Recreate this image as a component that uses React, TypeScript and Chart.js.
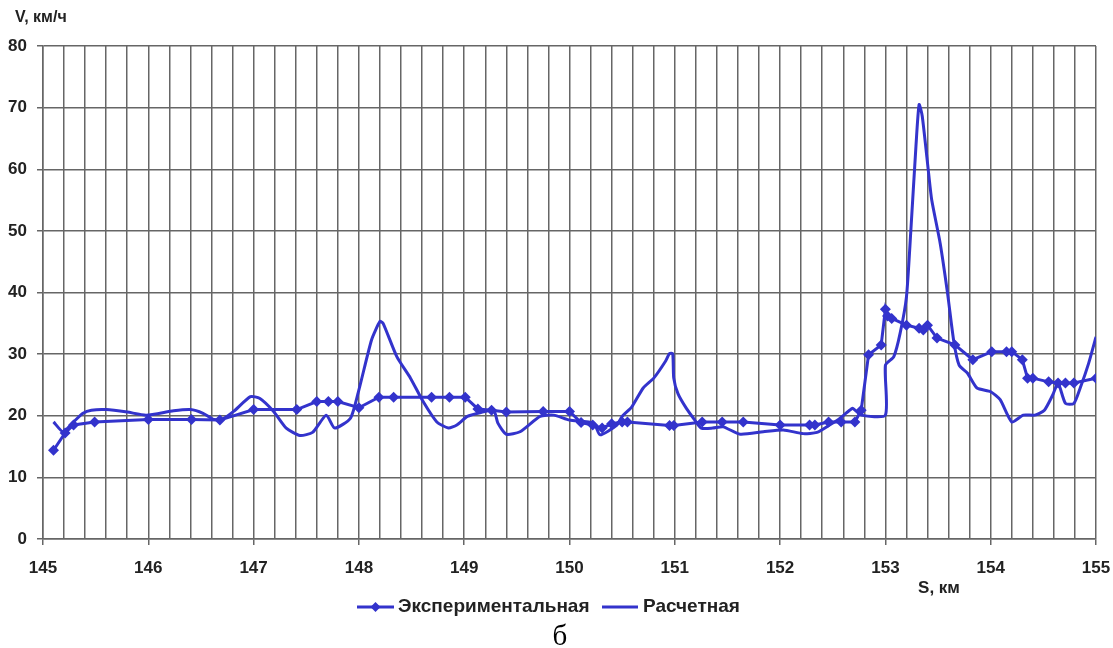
import React, { useEffect, useRef } from 'react';
import { Chart, registerables } from 'chart.js';

Chart.register(...registerables);

// Экспериментальная (with markers)
const expS = [
  145.1, 145.21, 145.29, 145.49, 146.0, 146.41, 146.68, 147.0, 147.41, 147.6,
  147.71, 147.8, 148.0, 148.19, 148.33, 148.69, 148.86, 149.01, 149.13, 149.26,
  149.4, 149.75, 150.0, 150.11, 150.22, 150.31, 150.4, 150.5, 150.55, 150.95,
  150.99, 151.26, 151.45, 151.65, 152.0, 152.28, 152.33, 152.46, 152.58, 152.71,
  152.77, 152.84, 152.96, 153.0, 153.02, 153.06, 153.2, 153.32, 153.36, 153.4,
  153.49, 153.66, 153.83, 154.01, 154.15, 154.2, 154.3, 154.35, 154.4, 154.55,
  154.64, 154.71, 154.79, 155.0,
];
const expV = [
  14.4, 17.2, 18.5, 19.0, 19.4, 19.4, 19.3, 21.0, 21.0, 22.3,
  22.3, 22.3, 21.3, 23.0, 23.0, 23.0, 23.0, 23.0, 21.1, 20.9,
  20.6, 20.7, 20.7, 18.9, 18.5, 18.0, 18.7, 19.0, 19.0, 18.4,
  18.4, 19.0, 19.0, 19.0, 18.5, 18.5, 18.5, 19.0, 19.0, 19.0,
  20.9, 29.9, 31.5, 37.3, 36.2, 35.8, 34.7, 34.2, 33.9, 34.7,
  32.6, 31.5, 29.1, 30.4, 30.4, 30.4, 29.1, 26.1, 26.1, 25.5,
  25.3, 25.3, 25.3, 26.1,
];

// Расчетная (line only)
const calcS = [
  145.1, 145.19, 145.29, 145.38, 145.46, 145.6, 145.8, 145.98, 146.24, 146.4,
  146.52, 146.62, 146.7, 146.81, 146.97, 147.06, 147.19, 147.31, 147.44, 147.56,
  147.69, 147.77, 147.92, 148.0, 148.12, 148.2, 148.23, 148.36, 148.49, 148.61,
  148.74, 148.85, 148.93, 149.03, 149.15, 149.28, 149.32, 149.4, 149.53, 149.72,
  149.85, 150.0, 150.23, 150.29, 150.45, 150.5, 150.59, 150.7, 150.8, 150.91,
  150.95, 150.98, 150.99, 151.03, 151.11, 151.19, 151.25, 151.36, 151.46, 151.62,
  151.84, 152.03, 152.22, 152.35, 152.47, 152.57, 152.66, 152.69, 152.77, 153.0,
  153.0, 153.08, 153.14, 153.2, 153.24, 153.29, 153.32, 153.35, 153.41, 153.44,
  153.52, 153.59, 153.65, 153.7, 153.78, 153.87, 154.0, 154.09, 154.2, 154.31,
  154.42, 154.51, 154.59, 154.64, 154.71, 154.79, 154.85, 154.93, 155.0,
];
const calcV = [
  19.0, 17.4, 19.0, 20.4, 20.9, 21.0, 20.6, 20.1, 20.8, 21.0,
  20.4, 19.4, 19.4, 20.7, 23.1, 22.8, 20.7, 18.0, 16.8, 17.3,
  20.1, 18.0, 19.6, 24.2, 32.3, 35.3, 35.0, 29.6, 26.1, 22.3,
  19.0, 18.0, 18.5, 19.9, 20.5, 20.9, 18.8, 17.0, 17.4, 19.9,
  20.1, 19.3, 18.8, 16.9, 18.5, 19.9, 21.4, 24.5, 26.1, 28.8,
  30.1, 30.1, 26.1, 23.6, 21.2, 19.3, 18.0, 18.0, 18.2, 17.0,
  17.4, 17.7, 17.1, 17.3, 18.5, 19.6, 20.9, 21.2, 20.1, 20.1,
  28.2, 29.6, 33.4, 39.3, 49.6, 63.7, 70.5, 68.6, 59.4, 55.0,
  48.0, 39.9, 32.0, 28.2, 26.9, 24.5, 23.9, 22.6, 19.0, 20.1,
  20.1, 20.9, 23.4, 25.3, 22.0, 22.0, 24.5, 28.5, 32.8,
];

const seriesNames = ['Экспериментальная', 'Расчетная'];
const xTitle = 'S, км';
const yTitle = 'V, км/ч';
const caption = 'б';
const xMin = 145;
const xMax = 155;
const xStep = 0.2;
const yMin = 0;
const yMax = 80;
const yStep = 10;

const LINE = '#3333CC';
const GRID = '#666666';
const TEXT = '#222222';
const FONT = '"Liberation Sans", Arial, sans-serif';

const isInt = (v: number) => Math.abs(v - Math.round(v)) < 1e-6;

export default function App() {
  const ref = useRef<HTMLCanvasElement>(null);

  useEffect(() => {
    if (!ref.current) return;

    const overlay = {
      id: 'overlay',
      afterDraw(chart: any) {
        const ctx = chart.ctx as CanvasRenderingContext2D;
        ctx.save();
        ctx.fillStyle = TEXT;
        ctx.font = `bold 16px ${FONT}`;
        ctx.textBaseline = 'middle';
        ctx.textAlign = 'left';
        ctx.fillText(yTitle, 15, 18);
        ctx.font = `bold 17px ${FONT}`;
        ctx.textAlign = 'center';
        ctx.fillText(xTitle, 939, 588);

        // legend
        const ly = 607;
        const items = [
          { x0: 357, x1: 394, tx: 398, marker: true, label: seriesNames[0] },
          { x0: 602, x1: 638, tx: 643, marker: false, label: seriesNames[1] },
        ];
        ctx.font = `bold 19px ${FONT}`;
        ctx.textAlign = 'left';
        for (const it of items) {
          ctx.strokeStyle = LINE;
          ctx.lineWidth = 3;
          ctx.beginPath();
          ctx.moveTo(it.x0, ly);
          ctx.lineTo(it.x1, ly);
          ctx.stroke();
          if (it.marker) {
            const cx = (it.x0 + it.x1) / 2;
            const r = 5;
            ctx.fillStyle = LINE;
            ctx.beginPath();
            ctx.moveTo(cx, ly - r);
            ctx.lineTo(cx + r, ly);
            ctx.lineTo(cx, ly + r);
            ctx.lineTo(cx - r, ly);
            ctx.closePath();
            ctx.fill();
          }
          ctx.fillStyle = TEXT;
          ctx.fillText(it.label, it.tx, ly);
        }

        ctx.font = `29px "Liberation Serif", "Times New Roman", serif`;
        ctx.textAlign = 'center';
        ctx.textBaseline = 'alphabetic';
        ctx.fillStyle = '#000';
        ctx.fillText(caption, 560, 645);
        ctx.restore();
      },
    };

    const chart = new Chart(ref.current, {
      type: 'line',
      data: {
        datasets: [
          {
            label: seriesNames[0],
            data: expS.map((s, i) => ({ x: s, y: expV[i] })),
            borderColor: LINE,
            backgroundColor: LINE,
            borderWidth: 3,
            pointStyle: 'rectRot',
            pointRadius: 5.5,
            pointBorderWidth: 0,
            pointBackgroundColor: LINE,
            tension: 0,
          },
          {
            label: seriesNames[1],
            data: calcS.map((s, i) => ({ x: s, y: calcV[i] })),
            borderColor: LINE,
            backgroundColor: LINE,
            borderWidth: 3,
            pointRadius: 0,
            tension: 0.2,
          },
        ],
      },
      options: {
        animation: false,
        responsive: true,
        maintainAspectRatio: false,
        layout: { padding: { left: 0, top: 46, right: 17, bottom: 0 } },
        plugins: {
          legend: { display: false },
          tooltip: { enabled: false },
        },
        scales: {
          x: {
            type: 'linear',
            min: xMin,
            max: xMax,
            afterFit: (scale: any) => {
              scale.height = 109;
              scale.paddingLeft = 0;
              scale.paddingRight = 0;
            },
            ticks: {
              stepSize: xStep,
              autoSkip: false,
              maxRotation: 0,
              minRotation: 0,
              padding: 13,
              color: TEXT,
              font: { family: FONT, size: 17, weight: 'bold' },
              callback: (v: any) => (isInt(Number(v)) ? String(Math.round(Number(v))) : ''),
            },
            grid: {
              color: GRID,
              lineWidth: 1.5,
              tickLength: 6,
              tickColor: (ctx: any) =>
                ctx.tick && isInt(ctx.tick.value) ? GRID : 'rgba(0,0,0,0)',
            },
            border: { color: GRID, width: 1.5 },
          },
          y: {
            type: 'linear',
            min: yMin,
            max: yMax,
            afterFit: (scale: any) => {
              scale.width = 43;
              scale.paddingTop = 0;
              scale.paddingBottom = 0;
            },
            ticks: {
              stepSize: yStep,
              padding: 10,
              color: TEXT,
              font: { family: FONT, size: 17, weight: 'bold' },
            },
            grid: {
              color: GRID,
              lineWidth: 1.5,
              tickLength: 6,
              tickColor: GRID,
            },
            border: { color: GRID, width: 1.5 },
          },
        },
      },
      plugins: [overlay],
    });

    return () => chart.destroy();
  }, []);

  return (
    <div style={{ position: 'fixed', left: 0, top: 0, width: 1113, height: 648, background: '#fff' }}>
      <canvas ref={ref} />
    </div>
  );
}
